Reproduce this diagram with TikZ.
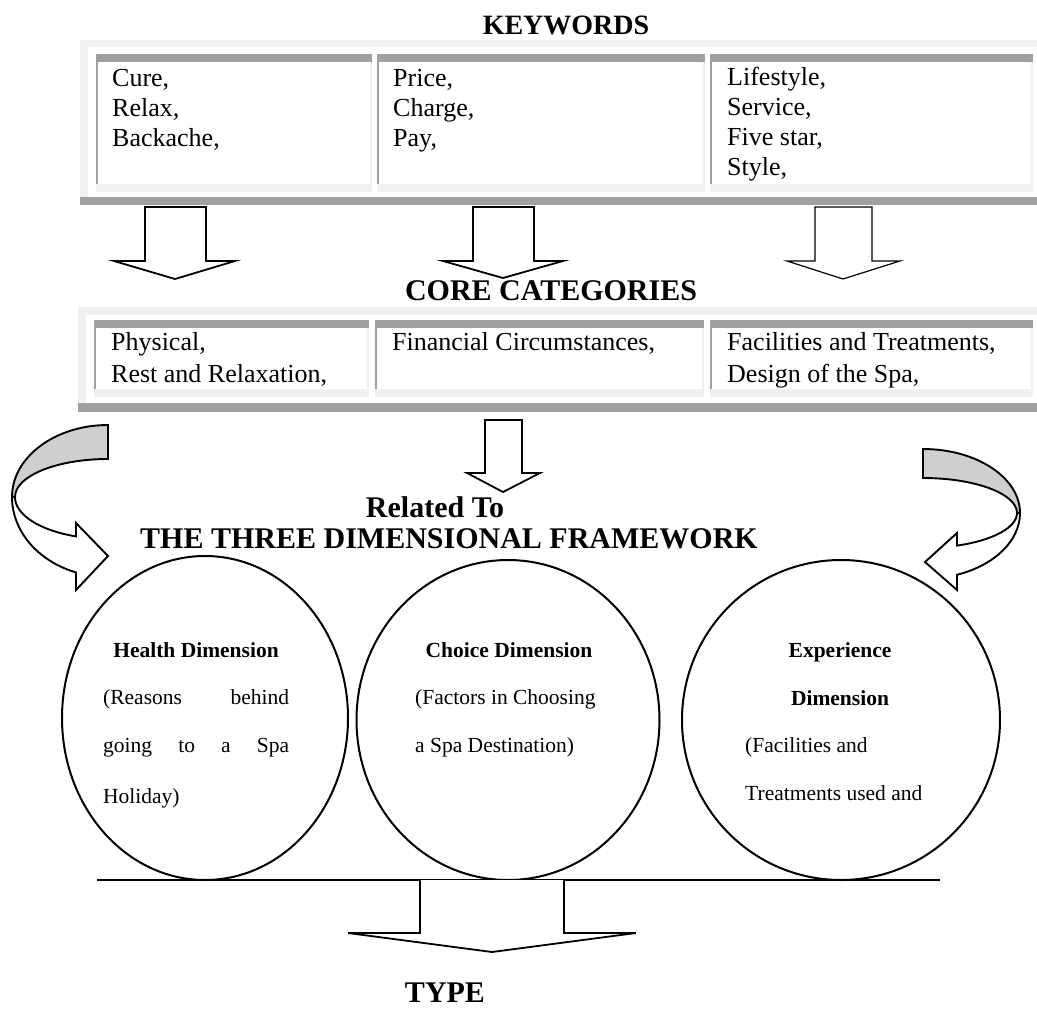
\documentclass[tikz,border=0pt]{standalone}
\usepackage{fontspec}
\setmainfont{Liberation Serif}
\usetikzlibrary{shapes.geometric}
\definecolor{dkgray}{HTML}{A0A0A0}
\definecolor{ltgray}{HTML}{F0F0F0}
\definecolor{curvgray}{HTML}{CFCFCF}
\begin{document}
\begin{tikzpicture}[x=1pt,y=-1pt,
  txt/.style={inner sep=0pt, anchor=base west, font=\fontsize{26}{30}\selectfont},
  head/.style={inner sep=0pt, anchor=base, font=\fontsize{30}{34}\selectfont\bfseries},
  ctxt/.style={inner sep=0pt, anchor=base west, font=\fontsize{21.5}{24}\selectfont},
  chead/.style={inner sep=0pt, anchor=base, font=\fontsize{21.5}{24}\selectfont\bfseries},
  blockarrow/.style={draw=black, line width=1.8pt, fill=white, line join=miter},
  circ/.style={ellipse, draw=black, line width=2pt, inner sep=0pt},
  curvfront/.style={draw=black, line width=1.9pt, fill=white, line join=miter},
  curvback/.style={draw=black, line width=1.9pt, fill=curvgray, line join=miter},
]
\fill[white] (0,0) rectangle (1037,1015);
\useasboundingbox (0,0) rectangle (1037,1015);

% ---------- table 1 ----------
\fill[ltgray] (80,40) rectangle (1037,47);
\fill[ltgray] (80,40) rectangle (88,205);
\fill[dkgray] (80,197) rectangle (1037,205);
\foreach \a/\b in {96/372,377/705,710/1033}{
  \fill[dkgray] (\a,54) rectangle (\b,62);
  \fill[dkgray] (\a,62) rectangle (\a+2,184);
  \fill[ltgray] (\a,184) rectangle (\b,192);
  \fill[ltgray] (\b-2,62) rectangle (\b,184);
}
\node[head, font=\fontsize{28}{32}\selectfont\bfseries] (kwh) at (566,34) {KEYWORDS};
\node[txt] (k1) at (112,86) {Cure,};
\node[txt] (k2) at (112,116) {Relax,};
\node[txt] (k3) at (112,146) {Backache,};
\node[txt] (k4) at (393,86) {Price,};
\node[txt] (k5) at (393,116) {Charge,};
\node[txt] (k6) at (393,146) {Pay,};
\node[txt] (k7) at (727,85) {Lifestyle,};
\node[txt] (k8) at (727,115) {Service,};
\node[txt] (k9) at (727,145) {Five star,};
\node[txt] (k10) at (727,175) {Style,};

% ---------- arrows row 1 ----------
\draw[blockarrow] (145,207) -- (145,261) -- (114,261) -- (175,279) -- (235,261) -- (206,261) -- (206,207) -- cycle;
\draw[blockarrow] (473,207) -- (473,261) -- (443,261) -- (503,278) -- (563,261) -- (534,261) -- (534,207) -- cycle;
\draw[blockarrow, line width=1.2pt] (815,207) -- (815,261) -- (787,261) -- (843,279) -- (900,261) -- (872,261) -- (872,207) -- cycle;

\node[head] (cch) at (551,300) {CORE CATEGORIES};

% ---------- table 2 ----------
\fill[ltgray] (78,307) rectangle (1037,315);
\fill[ltgray] (78,307) rectangle (86,412);
\fill[dkgray] (78,403) rectangle (1037,412);
\foreach \a/\b in {94/369,375/704,710/1033}{
  \fill[dkgray] (\a,320) rectangle (\b,328);
  \fill[dkgray] (\a,328) rectangle (\a+2,389);
  \fill[ltgray] (\a,389) rectangle (\b,397);
  \fill[ltgray] (\b-2,328) rectangle (\b,389);
}
\node[txt] (cat1) at (111,350) {Physical,};
\node[txt] (cat2) at (111,382) {Rest and Relaxation,};
\node[txt] (cat3) at (392,350) {Financial Circumstances,};
\node[txt] (cat4) at (727,350) {Facilities and Treatments,};
\node[txt] (cat5) at (727,382) {Design of the Spa,};

% ---------- middle arrow ----------
\draw[blockarrow] (485,420) -- (485,473) -- (467,473) -- (503,492) -- (540,473) -- (522,473) -- (522,420) -- cycle;
\node[head] (rel) at (435,517) {Related To};
\node[head] (tdf) at (449,548) {THE THREE DIMENSIONAL FRAMEWORK};

% ---------- curved arrows ----------
\draw[curvfront] (12,497) arc[start angle=180,end angle=109.5,x radius=96,y radius=80]
  -- (76,590) -- (108,556) -- (76,523) -- (76,536.4)
  arc[start angle=110.1,end angle=180,x radius=93,y radius=42] -- cycle;
\draw[curvback] (108,425) arc[start angle=270,end angle=180,x radius=96,y radius=72]
  -- (15,497) arc[start angle=180,end angle=270,x radius=93,y radius=38] -- cycle;

\draw[curvfront] (1020,513) arc[start angle=0,end angle=69.5,x radius=97,y radius=66]
  -- (957,590) -- (925,562) -- (957,533) -- (957,545.6)
  arc[start angle=68.8,end angle=0,x radius=94,y radius=35] -- cycle;
\draw[curvback] (923,449) arc[start angle=270,end angle=360,x radius=97,y radius=64]
  -- (1017,513) arc[start angle=0,end angle=-90,x radius=94,y radius=35] -- cycle;

% ---------- circles ----------
\node[circ, minimum width=286pt, minimum height=324pt] (health) at (205,718) {};
\node[circ, minimum width=303pt, minimum height=320pt] (choice) at (508,720) {};
\node[circ, minimum width=318pt, minimum height=320pt] (exper) at (841,720) {};

\node[chead] (hd) at (196,657) {Health Dimension};
\node[ctxt] (h1) at (103,704) {\makebox[186pt][s]{(Reasons behind}};
\node[ctxt] (h2) at (103,752) {\makebox[186pt][s]{going to a Spa}};
\node[ctxt] (h3) at (103,803) {Holiday)};

\node[chead] (cd) at (509,657) {Choice Dimension};
\node[ctxt] (ch1) at (415,704) {(Factors in Choosing};
\node[ctxt] (ch2) at (415,752) {a Spa Destination)};

\node[chead] (ed1) at (840,657) {Experience};
\node[chead] (ed2) at (840,705) {Dimension};
\node[ctxt] (e1) at (745,752) {(Facilities and};
\node[ctxt] (e2) at (745,800) {Treatments used and};

% ---------- base line and bottom arrow ----------
\coordinate (bl) at (97,880);
\coordinate (br) at (940,880);
\draw[line width=2.2pt] (bl) -- (br);
\draw[blockarrow] (420,880) -- (420,933) -- (348,933) -- (492,952) -- (636,933) -- (564,933) -- (564,880);
\node[head] (type) at (445,1002) {TYPE};
\end{tikzpicture}
\end{document}
